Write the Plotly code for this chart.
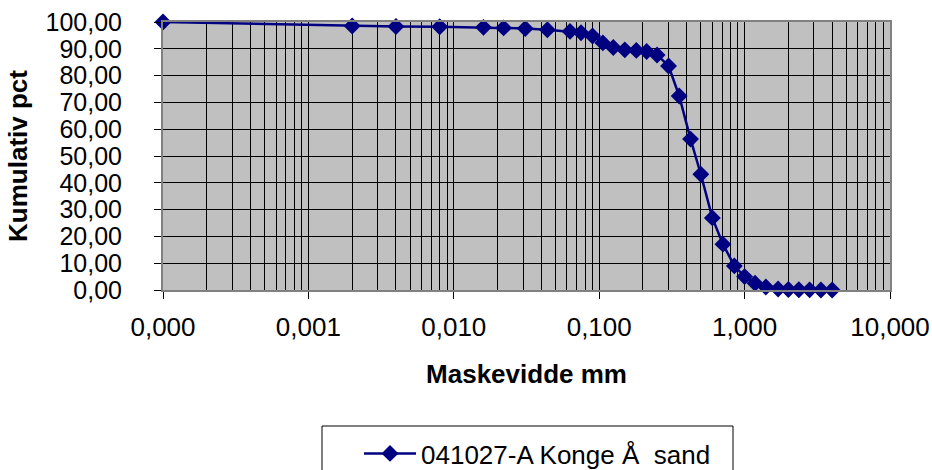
import plotly.graph_objects as go

# Data
mesh_mm = [0.0001, 0.002, 0.004, 0.008, 0.016, 0.022, 0.031, 0.044, 0.063, 0.075,
           0.09, 0.106, 0.125, 0.15, 0.18, 0.212, 0.25, 0.3, 0.355, 0.425,
           0.5, 0.6, 0.71, 0.85, 1.0, 1.18, 1.4, 1.7, 2.0, 2.36, 2.8, 3.35, 4.0]
cum_pct = [100.0, 98.5, 98.3, 98.2, 98.0, 97.8, 97.6, 97.1, 96.5, 96.0,
           94.8, 92.2, 90.5, 89.6, 89.4, 89.0, 87.7, 83.6, 72.4, 56.3,
           43.2, 26.9, 17.1, 9.0, 5.0, 2.5, 1.1, 0.4, 0.2, 0.1, 0.05, 0.02, 0.0]
series_name = "041027-A Konge Å\u00a0 sand"

decade_ticks = [0.0001, 0.001, 0.01, 0.1, 1, 10]
minor_vals = [m * d for d in [0.0001, 0.001, 0.01, 0.1, 1] for m in range(2, 10)]
y_ticks = list(range(0, 101, 10))

FONT = "Liberation Sans, Arial, sans-serif"
FS = 26
PW, PH = 727, 268  # plot area size in px

fig = go.Figure()
fig.add_trace(go.Scatter(
    x=mesh_mm, y=cum_pct, mode="lines+markers", name=series_name,
    line=dict(color="#000080", width=2.5),
    marker=dict(symbol="diamond", size=13, color="#000080"),
    cliponaxis=False,
))

fig.update_layout(
    width=932, height=470,
    margin=dict(l=163, r=42, t=22, b=180, autoexpand=False),
    paper_bgcolor="white", plot_bgcolor="#C0C0C0",
    separators=",.",
    font=dict(family=FONT, size=FS, color="black"),
    showlegend=True,
    legend=dict(x=((322 + 733) / 2 + 10 - 163) / PW, xanchor="center",
                y=(290 - 430) / PH, yanchor="top", itemwidth=52,
                bgcolor="rgba(0,0,0,0)", borderwidth=0,
                font=dict(family=FONT, size=FS, color="black")),
    shapes=[dict(type="rect", xref="paper", yref="paper",
                 x0=(322 - 163) / PW, x1=(733 - 163) / PW,
                 y0=(290 - 480) / PH, y1=(290 - 426) / PH,
                 line=dict(color="black", width=1), fillcolor="rgba(0,0,0,0)")],
)

fig.update_xaxes(
    type="log", range=[-4, 1],
    tickvals=decade_ticks, tickformat=".3f", tickangle=0,
    ticks="outside", ticklen=7, tickcolor="black", tickwidth=1,
    ticklabelstandoff=6,
    showgrid=True, gridcolor="black", gridwidth=1,
    minor=dict(tickvals=minor_vals, showgrid=True, gridcolor="black", gridwidth=1, ticks=""),
    showline=True, linecolor="#808080", linewidth=2, mirror=True,
    zeroline=False,
    title=dict(text="<b>Maskevidde mm</b>", font=dict(family=FONT, size=FS), standoff=24),
    tickfont=dict(family=FONT, size=FS),
)
fig.update_yaxes(
    range=[0, 100], tickvals=y_ticks, tickformat=".2f",
    ticks="outside", ticklen=7, tickcolor="black", tickwidth=1,
    ticklabelstandoff=27,
    showgrid=True, gridcolor="black", gridwidth=1,
    showline=True, linecolor="#808080", linewidth=2, mirror=True,
    zeroline=False,
    title=dict(text="<b>Kumulativ pct</b>", font=dict(family=FONT, size=FS), standoff=10),
    tickfont=dict(family=FONT, size=25),
)

fig.write_html("out.html")
